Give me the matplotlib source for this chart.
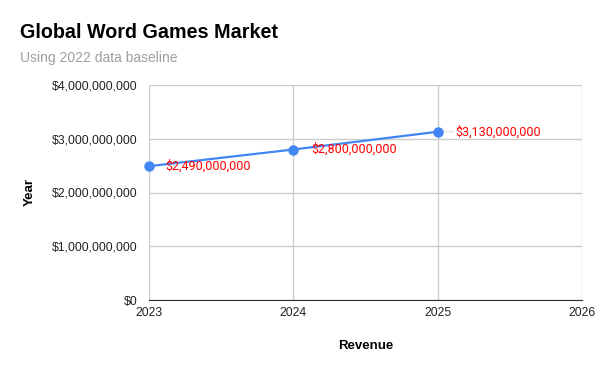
import matplotlib.pyplot as plt
from matplotlib.ticker import FuncFormatter

years = [2023, 2024, 2025]
revenue = [2490000000, 2800000000, 3130000000]
labels = ["$2,490,000,000", "$2,800,000,000", "$3,130,000,000"]
x_ticks = [2023, 2024, 2025, 2026]
y_ticks = [0, 1e9, 2e9, 3e9, 4e9]

plt.rcParams['font.family'] = ['Liberation Sans', 'DejaVu Sans']

fig = plt.figure(figsize=(6, 3.71), dpi=100)
ax = fig.add_axes([149 / 600, 1 - 300 / 371, 433 / 600, 215 / 371])

# faint leader line for last label
ax.annotate('', (2025, revenue[2]), xytext=(13, 0), textcoords='offset points',
            arrowprops=dict(arrowstyle='-', color='#eeeeee', lw=2))
ax.plot(years, revenue, color='#4285F4', lw=1.6, marker='o', ms=6.5, zorder=3, clip_on=False)

offsets = [12, 13, 13]
for x, y, t, dx in zip(years, revenue, labels, offsets):
    ax.annotate(t, (x, y), xytext=(dx, 0), textcoords='offset points',
                ha='left', va='center', color='#FF0000', fontsize=9, family='Roboto')

ax.set_xlim(2023, 2026)
ax.set_ylim(0, 4e9)
ax.set_xticks(x_ticks)
ax.set_yticks(y_ticks)
ax.yaxis.set_major_formatter(FuncFormatter(lambda v, p: "${:,.0f}".format(v)))
ax.tick_params(axis='both', length=0, labelsize=8.8, colors='#222222')
ax.tick_params(axis='y', pad=8)
ax.tick_params(axis='x', pad=5)
ax.grid(True, color='#cccccc', lw=1)
ax.set_axisbelow(True)
for s in ['top', 'right', 'left']:
    ax.spines[s].set_visible(False)
ax.spines['bottom'].set_color('#333333')

ax.set_xlabel('Revenue', fontsize=9.5, fontweight='bold', labelpad=15)
ax.set_ylabel('Year', fontsize=9.5, fontweight='bold', labelpad=12)

fig.text(20 / 600, 1 - 32 / 371, 'Global Word Games Market', fontsize=14.2, fontweight='bold', va='center')
fig.text(20 / 600, 1 - 58 / 371, 'Using 2022 data baseline', fontsize=10, color='#9e9e9e', va='center')

fig.savefig('out.png', dpi=100)
